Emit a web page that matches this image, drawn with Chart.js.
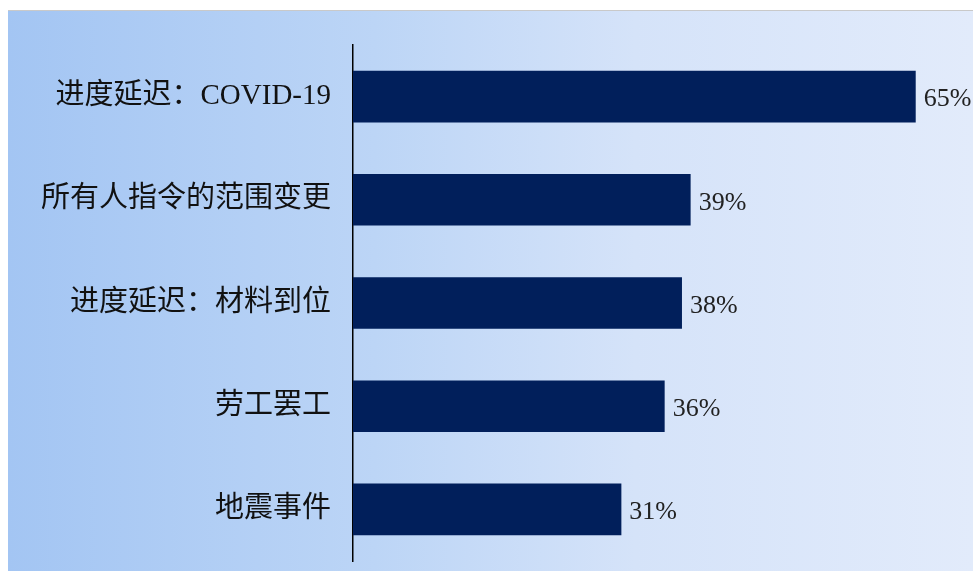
<!DOCTYPE html>
<html>
<head>
<meta charset="utf-8">
<script src="https://cdn.jsdelivr.net/npm/chart.js@4.4.1/dist/chart.umd.min.js"></script>
<style>
  html, body { margin: 0; padding: 0; background: #fff; }
  #wrap { position: relative; width: 973px; height: 571px; }
  #panel {
    position: absolute; left: 8px; top: 10px; right: 0; bottom: 0;
    border-top: 1px solid #c9c9c9;
    background: linear-gradient(to right, #a3c5f3 0%, #bcd5f6 38%, #d5e3f9 65%, #e2ebfb 100%);
  }
  #barChart { position: absolute; left: 0; top: 0; }
</style>
</head>
<body>
<div id="wrap">
  <div id="panel"></div>
  <canvas id="barChart" width="973" height="571"></canvas>
</div>
<script>
var categories = ["进度延迟：COVID-19", "所有人指令的范围变更", "进度延迟：材料到位", "劳工罢工", "地震事件"];
var shares = [65, 39, 38, 36, 31];

// writes the percentage just past the end of each bar
var valueLabels = {
    id: 'valueLabels',
    afterDatasetsDraw: function (chart) {
        var ctx = chart.ctx;
        var meta = chart.getDatasetMeta(0);
        ctx.save();
        ctx.font = '26px "Liberation Serif", "Times New Roman", serif';
        ctx.fillStyle = '#222';
        ctx.textAlign = 'left';
        ctx.textBaseline = 'middle';
        meta.data.forEach(function (bar, i) {
            ctx.fillText(shares[i] + '%', bar.x + 8, bar.y + 3);
        });
        ctx.restore();
    }
};

var ctx = document.getElementById("barChart");
var myChart = new Chart(ctx, {
    type: 'bar',
    data: {
        labels: categories,
        datasets: [{
            data: shares,
            backgroundColor: "#011f5b",
            borderWidth: 0,
            categoryPercentage: 1,
            barPercentage: 0.5
        }]
    },
    options: {
        indexAxis: 'y',
        responsive: false,
        animation: false,
        layout: { padding: { top: 45, bottom: 10, right: 14, left: 0 } },
        plugins: {
            legend: { display: false },
            tooltip: { enabled: false }
        },
        scales: {
            x: {
                display: false,
                min: 0,
                max: 70
            },
            y: {
                grid: { display: false, drawTicks: false },
                border: { display: true, color: '#000', width: 1.5 },
                afterFit: function (scale) {
                    scale.width = 353;
                    scale.paddingTop = 0;
                    scale.paddingBottom = 0;
                },
                ticks: {
                    padding: 22,
                    color: '#111',
                    font: { size: 29, family: '"Liberation Serif", "Noto Sans CJK SC", serif' }
                }
            }
        }
    },
    plugins: [valueLabels]
});
</script>
</body>
</html>
